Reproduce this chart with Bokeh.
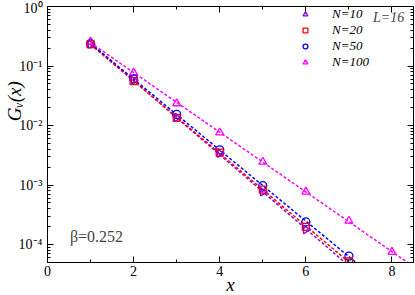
import numpy as np
from bokeh.plotting import figure
from bokeh.models import FixedTicker, LinearAxis, LogAxis, Legend, LegendItem, Label
from bokeh.embed import file_html
from bokeh.resources import INLINE

# ---- data ----
x_n10 = [1, 2, 3, 4, 5, 6]
g_n10 = [0.232, 0.057, 0.0136, 0.0034, 0.00077, 0.000178]
x_n20 = [1, 2, 3, 4, 5, 6, 7]
g_n20 = [0.233, 0.056, 0.0135, 0.0035, 0.00084, 0.000198, 5.2e-5]
x_n50 = [1, 2, 3, 4, 5, 6, 7]
g_n50 = [0.236, 0.061, 0.0154, 0.0039, 0.00098, 0.00024, 6.4e-5]
x_n100 = [1, 2, 3, 4, 5, 6, 7, 8]
g_n100 = [0.256, 0.077, 0.0235, 0.0076, 0.00245, 0.00077, 0.00025, 7.5e-5]

x_ticks = [0, 2, 4, 6, 8]
x_minor = [1, 3, 5, 7]
y_ticks = [1e-4, 1e-3, 1e-2, 1e-1, 1.0]
y_tick_labels = {1e-4: "10\u207b\u2074", 1e-3: "10\u207b\u00b3", 1e-2: "10\u207b\u00b2",
                 1e-1: "10\u207b\u00b9", 1.0: "10\u2070"}

FONT = "Liberation Serif"
VIOLET = "#9400D3"
RED = "#FF0000"
BLUE = "#0000FF"
MAGENTA = "#FF00FF"

FW, FH = 366, 256
p = figure(frame_width=FW, frame_height=FH, y_axis_type="log", x_range=(0, 8.5),
           y_range=(5e-5, 1.0), output_backend="svg", toolbar_location=None,
           min_border_left=44, min_border_right=2, min_border_top=6, min_border_bottom=28)
p.grid.visible = False
p.outline_line_color = "black"
p.outline_line_width = 1
p.background_fill_color = "white"
p.border_fill_color = "white"

y_minor = [k * 10.0 ** e for e in range(-5, 0) for k in range(2, 10)]

def style_axis(ax):
    ax.axis_line_color = "black"
    ax.major_tick_line_color = "black"
    ax.minor_tick_line_color = "black"
    ax.major_tick_in = 6
    ax.major_tick_out = 0
    ax.minor_tick_in = 3
    ax.minor_tick_out = 0
    ax.major_label_text_font = FONT
    ax.major_label_text_font_size = "14px"
    ax.major_label_text_color = "black"

xt = FixedTicker(ticks=x_ticks, minor_ticks=x_minor)
yt = FixedTicker(ticks=y_ticks, minor_ticks=y_minor)

p.xaxis.ticker = xt
p.yaxis.ticker = yt
p.yaxis.major_label_overrides = y_tick_labels
for ax in p.xaxis + p.yaxis:
    style_axis(ax)
    ax.axis_label_text_font = FONT
    ax.axis_label_text_font_style = "italic"
    ax.axis_label_text_font_size = "19px"
    ax.axis_label_text_color = "black"
p.xaxis.major_label_standoff = 3
p.yaxis.major_label_standoff = 5
p.xaxis.axis_label = "x"
p.xaxis.axis_label_standoff = -5
# leading no-break spaces lift the label above the frame centre, as in the reference
p.yaxis.axis_label = "\u00a0" * 14 + "G\u1d65(x)"
p.yaxis.axis_label_standoff = -9

# mirrored tick marks on top and right (no labels)
top = LinearAxis(ticker=xt, major_label_overrides={t: "" for t in x_ticks})
style_axis(top)
top.major_label_standoff = 0
p.add_layout(top, "above")
right = LogAxis(ticker=yt, major_label_overrides={t: "" for t in y_ticks})
style_axis(right)
right.major_label_standoff = 0
p.add_layout(right, "right")

# fitted dashed lines
xf = np.array([1.0, 8.6])
for xs, ys, col in [(x_n10, g_n10, VIOLET), (x_n20, g_n20, RED),
                    (x_n50, g_n50, BLUE), (x_n100, g_n100, MAGENTA)]:
    a, b = np.polyfit(xs, np.log10(ys), 1)
    p.line(xf, 10 ** (a * xf + b), line_color=col, line_dash="3 2", line_width=1.5)

r100 = p.scatter(x_n100, g_n100, marker="triangle", size=8, fill_color=None,
                 line_color=MAGENTA, line_width=1.3)
r50 = p.scatter(x_n50, g_n50, marker="circle", size=8, fill_color=None,
                line_color=BLUE, line_width=1.3)
r20 = p.scatter(x_n20, g_n20, marker="square", size=7, fill_color=None,
                line_color=RED, line_width=1.3)
r10 = p.scatter(x_n10, g_n10, marker="triangle", angle=-np.pi / 2, size=8, fill_color=None,
                line_color=VIOLET, line_width=1.3)

legend = Legend(items=[LegendItem(label="N=10", renderers=[r10]),
                       LegendItem(label="N=20", renderers=[r20]),
                       LegendItem(label="N=50", renderers=[r50]),
                       LegendItem(label="N=100", renderers=[r100])],
                location=(252, FH - 64), glyph_width=12, glyph_height=12, label_height=12,
                label_standoff=21, spacing=0, padding=0, margin=0,
                border_line_color=None, background_fill_alpha=0,
                label_text_font=FONT, label_text_font_style="italic",
                label_text_font_size="13px", label_text_color="black")
p.add_layout(legend)

p.add_layout(Label(x=7.56, y=10 ** -0.19, text="L=16", text_font=FONT,
                   text_font_style="italic", text_font_size="14px", text_baseline="middle"))
p.add_layout(Label(x=0.52, y=10 ** -3.87, text="\u03b2=0.252", text_font=FONT,
                   text_font_size="16px", text_baseline="middle"))

open("out.html", "w").write(file_html(p, INLINE))
